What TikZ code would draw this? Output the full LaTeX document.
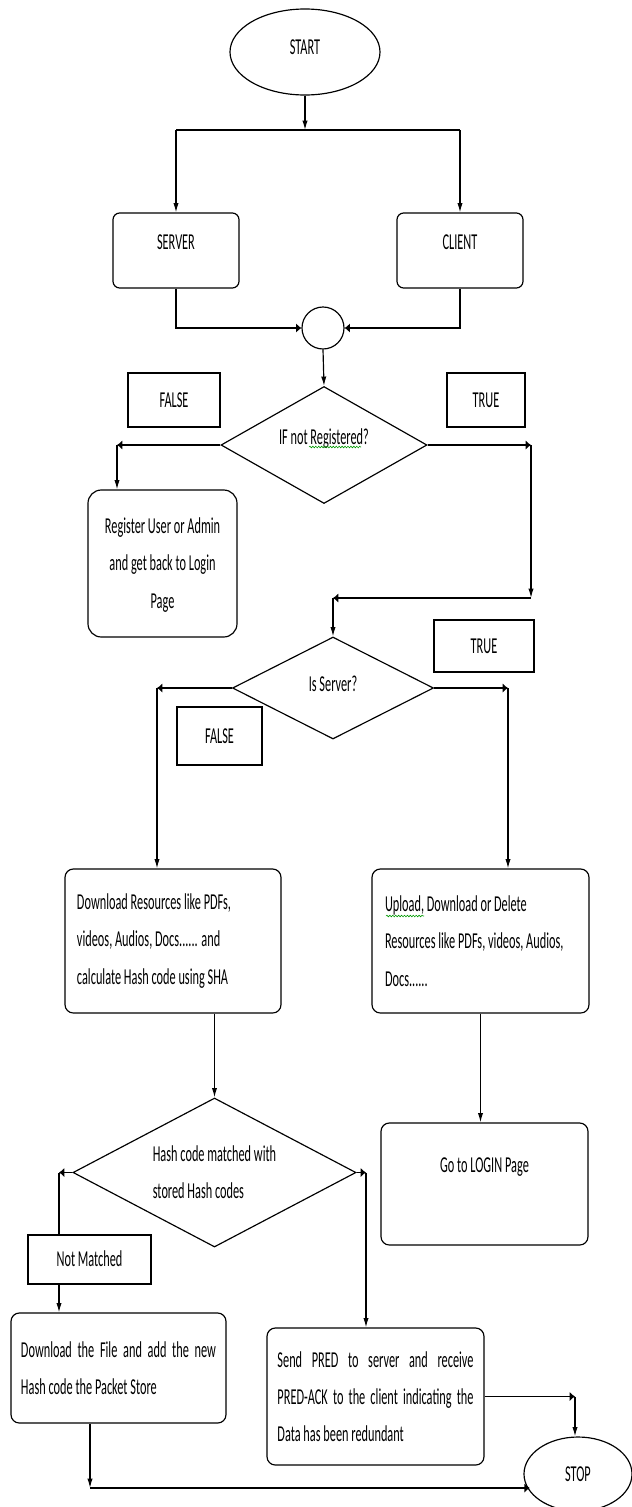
\documentclass[tikz,border=0pt]{standalone}
\usepackage{fontspec}
\setmainfont{Carlito}
\usepackage{graphicx}
\usetikzlibrary{arrows.meta,shapes.geometric,decorations.pathmorphing}
\newcommand{\tallc}[1]{\scalebox{1}[1.85]{\begin{tabular}{@{}c@{}}#1\end{tabular}}}
\newcommand{\talll}[1]{\scalebox{1}[1.85]{\begin{tabular}{@{}l@{}}#1\end{tabular}}}
\newcommand{\tallp}[2]{\scalebox{1}[1.85]{\parbox{#1}{#2}}}
\newcommand{\lift}[2]{\raisebox{#1}[\height][\depth]{#2}}

\begin{document}
\begin{tikzpicture}[x=0.03cm,y=-0.03cm,line width=1pt,
  font=\fontsize{10.5}{17.2}\selectfont,
  box/.style={draw,rounded corners=0.25cm,inner sep=0pt},
  tag/.style={draw,inner sep=0pt},
  cond/.style={draw,diamond,inner sep=0pt},
  term/.style={draw,ellipse,inner sep=0pt},
  varr/.style={-{Latex[length=8pt,width=4.5pt]}},
  harr/.style={-{Latex[length=4.5pt,width=8pt]}},
  spell/.style={green!60!black,line width=0.5pt,decorate,
    decoration={snake,amplitude=0.7pt,segment length=2.5pt}}]

    \useasboundingbox (0,0) rectangle (631,1507);

    \node[term,minimum width=4.5cm,minimum height=2.58cm] (start) at (305,52) {\lift{4pt}{\tallc{START}}};
    \coordinate (split) at (305,130);
    \node[box,rounded corners=0.2cm,minimum width=3.78cm,minimum height=2.25cm] (server) at (176,250.5) {\lift{7.5pt}{\tallc{SERVER}}};
    \node[box,rounded corners=0.2cm,minimum width=3.78cm,minimum height=2.25cm] (client) at (460,250.5) {\lift{7.5pt}{\tallc{CLIENT}}};
    \node[draw,circle,minimum size=1.26cm,inner sep=0pt] (merge) at (323,328) {};

    \draw[varr] (start.south) -- (split);
    \draw (server.north |- split) -- (client.north |- split);
    \draw[varr] (server.north |- split) -- (server.north);
    \draw[varr] (client.north |- split) -- (client.north);
    \draw[harr] (server.south) |- (merge.west);
    \draw[harr] (client.south) |- (merge.east);

    % registration check
    \node[cond,aspect=1.76,minimum width=6.18cm,minimum height=3.51cm] (ifreg) at (324,445) {\lift{6.5pt}{\tallc{IF not Registered?}}};
    \node[tag,minimum width=2.76cm,minimum height=1.62cm] (false1) at (174,400) {\tallc{FALSE}};
    \node[tag,minimum width=2.34cm,minimum height=1.62cm] (true1) at (486,400) {\tallc{TRUE}};
    \node[box,rounded corners=0.4cm,minimum width=4.47cm,minimum height=4.41cm] (register) at (162.5,563.5) {\tallc{Register User or Admin\\and get back to Login\\Page}};
    \draw[spell] (309,447) -- (361,447);

    \draw[varr] (merge.south) -- (ifreg.north);
    \coordinate (regl) at (117,445);
    \coordinate (regr) at (531,445);
    \coordinate (back) at (531,598);
    \coordinate (join) at (333,598);
    \draw[harr] (ifreg.west) -- (regl);
    \draw[varr] (regl) -- (regl |- register.north);
    \draw[harr] (ifreg.east) -- (regr);
    \draw[varr] (regr) -- (back);
    \draw[harr] (back) -- (join);

    % server or client
    \node[cond,aspect=2,minimum width=6.03cm,minimum height=3.06cm] (isserver) at (333,688) {\lift{3pt}{\tallc{Is Server?}}};
    \node[tag,minimum width=3cm,minimum height=1.56cm] (true2) at (484,646) {\tallc{TRUE}};
    \node[tag,minimum width=2.55cm,minimum height=1.74cm] (false2) at (219.5,736) {\tallc{FALSE}};
    \draw[varr] (join) -- (isserver.north);

    \node[box,minimum width=6.48cm,minimum height=4.32cm] (download) at (173,941) {\tallp{5.76cm}{\raggedright Download Resources like PDFs,\\ videos, Audios, Docs...... and\\ calculate Hash code using SHA}};
    \node[box,minimum width=6.51cm,minimum height=4.32cm] (upload) at (480.5,941) {\tallp{5.73cm}{\raggedright Upload, Download or Delete\\ Resources like PDFs, videos, Audios,\\ Docs......}};
    \draw[spell] (386,916) -- (424,916);

    \coordinate (srvl) at (157,688);
    \coordinate (srvr) at (508,688);
    \draw[harr] (isserver.west) -- (srvl);
    \draw[varr] (srvl) -- (srvl |- download.north);
    \draw[harr] (isserver.east) -- (srvr);
    \draw[varr] (srvr) -- (srvr |- upload.north);

    % hash check
    \node[cond,aspect=1.9,minimum width=8.49cm,minimum height=4.47cm] (match) at (214.5,1172.5) {\talll{Hash code matched with\\stored Hash codes}};
    \node[box,minimum width=6.21cm,minimum height=3.66cm] (login) at (484.5,1184) {\tallc{Go to LOGIN Page\\~}};
    \draw[varr] (match.north |- download.south) -- (match.north);
    \draw[varr] (upload.south) -- (upload.south |- login.north);

    \node[tag,minimum width=3.69cm,minimum height=1.47cm] (notmatched) at (89.5,1259.5) {\tallc{Not Matched}};
    \node[box,minimum width=6.45cm,minimum height=3.3cm] (savefile) at (118.5,1368) {\tallp{5.85cm}{Download the File and add the new\linebreak Hash code the Packet Store}};
    \node[box,minimum width=6.51cm,minimum height=4.11cm] (pred) at (375.5,1396.5) {\tallp{5.88cm}{Send PRED to server and receive\linebreak PRED-ACK to the client indicating the\linebreak Data has been redundant}};
    \node[term,minimum width=3.24cm,minimum height=2.22cm] (stop) at (578,1474) {\tallc{STOP}};

    \coordinate (nomatch) at (59,1172.5);
    \coordinate (yesmatch) at (366,1172.5);
    \draw[harr] (match.west) -- (nomatch);
    \draw (nomatch) -- (nomatch |- notmatched.north);
    \draw[varr] (nomatch |- notmatched.south) -- (nomatch |- savefile.north);
    \draw[harr] (match.east) -- (yesmatch);
    \draw[varr] (yesmatch) -- (yesmatch |- pred.north);

    \coordinate (predout) at (575,1396.5);
    \coordinate (fileout) at (90,1488);
    \draw[harr] (pred.east) -- (predout);
    \draw[varr] (predout) -- (predout |- stop.north);
    \draw[varr] (fileout |- savefile.south) -- (fileout);
    \draw[harr] (fileout) -- (fileout -| stop.200);

\end{tikzpicture}
\end{document}
